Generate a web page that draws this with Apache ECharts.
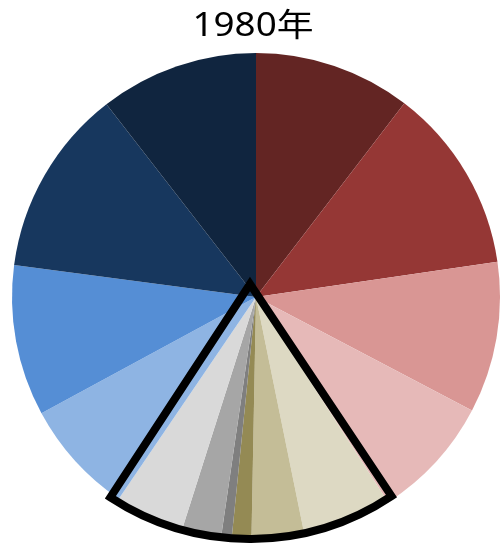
<!DOCTYPE html>
<html>
<head>
<meta charset="utf-8">
<script src="https://cdn.jsdelivr.net/npm/echarts@6/dist/echarts.min.js"></script>
<style>html,body{margin:0;padding:0;background:#fff;}#c{width:502px;height:543px;}</style>
</head>
<body>
<div id="c"></div>
<script>
var titleText = "1980年";
var categories = ["区分1","区分2","区分3","区分4","区分5","区分6","区分7","区分8","区分9","区分10","区分11","区分12","区分13","区分14"];
var shares = [10.4, 12.3, 10.0, 8.2, 5.9, 3.5, 1.3, 0.7, 2.6, 4.6, 7.6, 10.0, 12.4, 10.5];
var colors = ["#632523","#953735","#d99694","#e6b9b8","#ddd9c3","#c4bd97","#948a54","#7f7f7f","#a6a6a6","#d9d9d9","#8eb4e3","#558ed5","#17375e","#10253f"];
// highlighted group outline (before / group / after), in degrees
var outlineSpan = [146.3, 66.9, 146.8];

var chart = echarts.init(document.getElementById('c'), null, {renderer:'canvas'});
var pieData = categories.map(function(n,i){
  return {name:n, value:shares[i], itemStyle:{color:colors[i]}};
});
var outlineData = outlineSpan.map(function(v,i){
  if (i === 1) return {name:'group', value:v, itemStyle:{color:'rgba(0,0,0,0)', borderColor:'#000', borderWidth:8, borderJoin:'miter', borderMiterLimit:10}};
  return {name:'rest'+i, value:v, itemStyle:{color:'rgba(0,0,0,0)', borderWidth:0}};
});
chart.setOption({
  animation:false,
  graphic:[{
    type:'text', x:253, y:27, scaleX:1.15, scaleY:1,
    style:{text:titleText, fontSize:32, fontFamily:'"Noto Sans","Noto Sans CJK JP",sans-serif', fill:'#000', textAlign:'center', textVerticalAlign:'middle'}
  }],
  series:[{
    type:'pie', center:[256,297], radius:244, startAngle:90, clockwise:true,
    label:{show:false}, labelLine:{show:false}, silent:true,
    emphasis:{disabled:true}, avoidLabelOverlap:false,
    itemStyle:{borderWidth:0},
    data:pieData
  },{
    type:'pie', center:[250,284], radius:255, startAngle:90, clockwise:true, z:5,
    label:{show:false}, labelLine:{show:false}, silent:true,
    emphasis:{disabled:true},
    data:outlineData
  }]
});
</script>
</body>
</html>
